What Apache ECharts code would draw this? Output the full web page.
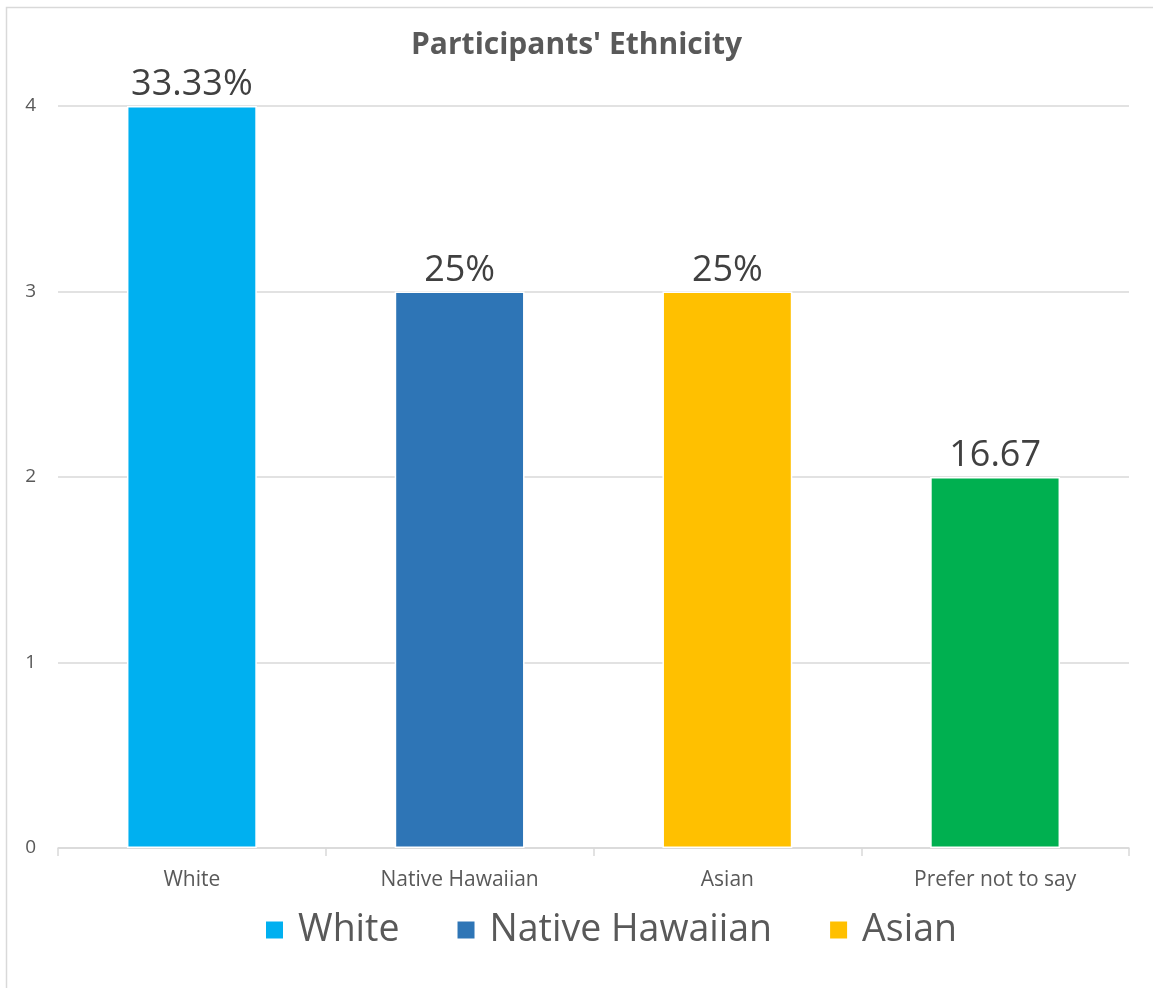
<!DOCTYPE html>
<html>
<head>
<meta charset="utf-8">
<script src="https://cdn.jsdelivr.net/npm/echarts@6/dist/echarts.min.js"></script>
<style>
  html, body { margin: 0; padding: 0; background: #fff; }
  #chart { width: 1153px; height: 988px; }
</style>
</head>
<body>
<div id="chart"></div>
<script>
// Participants by ethnicity (counts), with the percentage labels shown on each bar
const categories = ['White', 'Native Hawaiian', 'Asian', 'Prefer not to say'];
const counts = [4, 3, 3, 2];
const valueLabels = ['33.33%', '25%', '25%', '16.67'];
const barColors = ['#00b0f0', '#2e75b6', '#ffc000', '#00b050'];
const legendNames = ['White', 'Native Hawaiian', 'Asian'];
const yTicks = [0, 1, 2, 3, 4];

const FONT = '"Open Sans", "Noto Sans", sans-serif';

// One stacked series per category so each bar gets its own legend entry
const series = categories.map((name, i) => ({
  name: name,
  type: 'bar',
  stack: 'all',
  barWidth: '48.5%',
  data: categories.map((_, j) => (j === i ? counts[i] : null)),
  itemStyle: { color: barColors[i], borderColor: '#ffffff', borderWidth: 1.5 },
  label: {
    show: true,
    position: 'top',
    distance: 3,
    formatter: () => valueLabels[i],
    fontFamily: FONT,
    fontSize: 36,
    color: '#404040'
  }
}));

const chart = echarts.init(document.getElementById('chart'));
chart.setOption({
  animation: false,
  backgroundColor: '#ffffff',
  graphic: [{
    type: 'rect',
    shape: { x: 6.5, y: 7.5, width: 1200, height: 1100 },
    style: { fill: 'none', stroke: '#d9d9d9', lineWidth: 1.5 },
    silent: true
  }],
  title: {
    text: "Participants' Ethnicity",
    left: 'center',
    top: 25,
    textStyle: { fontFamily: FONT, fontSize: 30, fontWeight: 'bold', color: '#595959' }
  },
  legend: {
    data: legendNames,
    left: 259,
    top: 906,
    itemWidth: 19,
    itemHeight: 19,
    itemGap: 56,
    icon: 'rect',
    textStyle: { fontFamily: FONT, fontSize: 37.5, color: '#595959', padding: [0, 0, 0, 9] }
  },
  grid: { left: 58, right: 24, top: 106, bottom: 140, containLabel: false },
  xAxis: {
    type: 'category',
    data: categories,
    axisLine: { lineStyle: { color: '#d9d9d9', width: 1.5 } },
    axisTick: { show: true, length: 8, alignWithLabel: false, lineStyle: { color: '#d9d9d9', width: 1.5 } },
    axisLabel: { fontFamily: FONT, fontSize: 21, color: '#595959', margin: 22 }
  },
  yAxis: {
    type: 'value',
    min: yTicks[0],
    max: yTicks[yTicks.length - 1],
    interval: 1,
    axisLine: { show: false },
    axisTick: { show: false },
    axisLabel: { fontFamily: FONT, fontSize: 19, color: '#595959', margin: 22 },
    splitLine: { lineStyle: { color: '#d9d9d9', width: 1.5 } }
  },
  series: series
});
</script>
</body>
</html>
